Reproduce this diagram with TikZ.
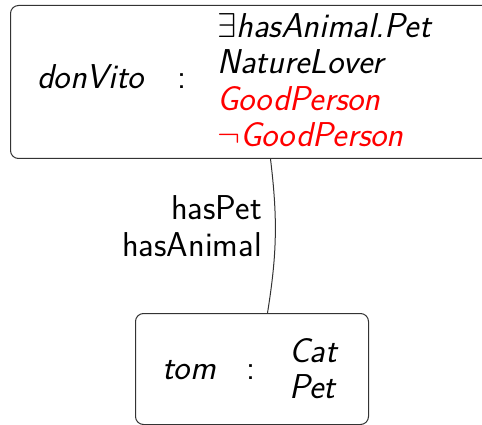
\RequirePackage{fix-cm}
\documentclass[tikz,border=0pt]{standalone}
\usepackage{tikz}
\usetikzlibrary{positioning}

\tikzset{
  abox/.style={draw=black!80, line width=1pt, rounded corners=8pt, anchor=north west, inner sep=0pt},
  conc/.style={anchor=base west, inner sep=0pt, font=\sffamily\itshape},
  colon/.style={anchor=base west, inner sep=0pt, font=\sffamily},
  role/.style={anchor=base east, inner sep=0pt, font=\sffamily}
}

\begin{document}
\begin{tikzpicture}[x=1pt,y=-1pt]
\fontsize{34.5}{36.5}\selectfont
\useasboundingbox (0,0) rectangle (482,425);
\clip (0,0) rectangle (482,425);
% individuals
\node[abox, minimum width=520pt, minimum height=153pt] (vito) at (10,5) {};
\node[abox, minimum width=233pt, minimum height=111pt] (tom) at (135,313) {};
% donVito
\node[conc] (vitoname) at (37,89) {donVito};
\node[colon] (vitocolon) at (177,89) {:};
\node[conc] (c1) at (217,38) {$\exists$hasAnimal.Pet};
\node[conc] (c2) at (217,74) {NatureLover};
\node[conc, red] (c3) at (217,111) {GoodPerson};
\node[conc, red] (c4) at (217,147) {$\neg$GoodPerson};
% tom
\node[conc] (tomname) at (162,379) {tom};
\node[colon] (tomcolon) at (246,379) {:};
\node[conc] (d1) at (289,362) {Cat};
\node[conc] (d2) at (289,398) {Pet};
% edge
\draw[black!80, line width=1pt] (vito.south) to[bend left=8] ([xshift=15.5pt]tom.north);
\node[role] (r1) at (262,219) {hasPet};
\node[role] (r2) at (262,256) {hasAnimal};
\end{tikzpicture}
\end{document}
